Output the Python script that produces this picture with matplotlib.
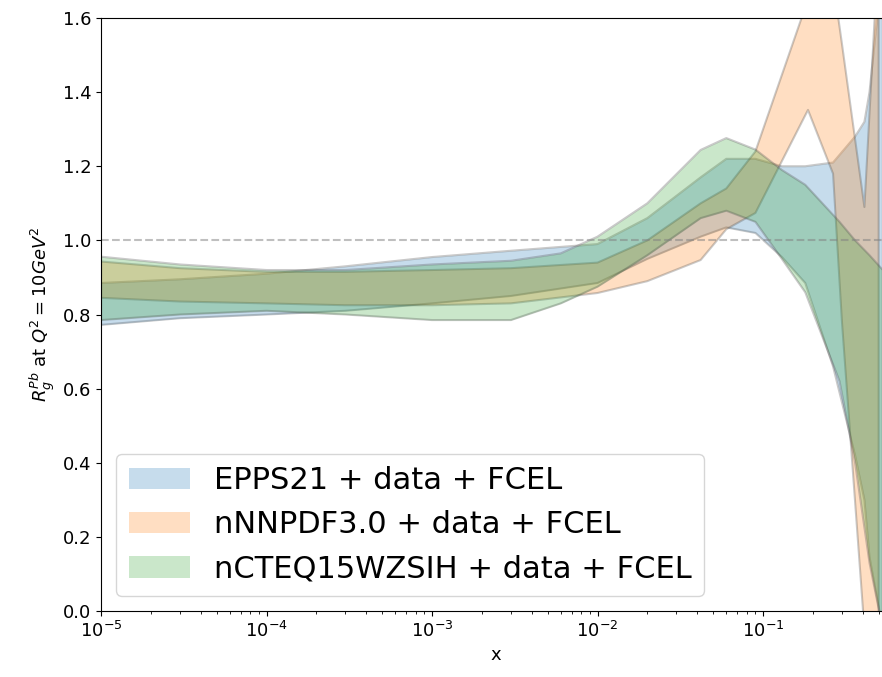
import numpy as np
import matplotlib
matplotlib.use("Agg")
import matplotlib.pyplot as plt

# EPPS21 band
x_epps = [1e-5, 3e-5, 1e-4, 3e-4, 1e-3, 3e-3, 1e-2, 2e-2, 4.2e-2, 6e-2, 9e-2,
          0.13, 0.18, 0.265, 0.36, 0.41, 0.44, 0.53]
hi_epps = [0.885, 0.895, 0.91, 0.93, 0.955, 0.972, 0.99, 1.06, 1.17, 1.22, 1.22,
           1.20, 1.20, 1.21, 1.28, 1.32, 1.40, 1.75]
lo_epps = [0.772, 0.79, 0.80, 0.81, 0.83, 0.85, 0.885, 0.95, 1.01, 1.035, 1.02,
           0.955, 0.885, 0.66, 0.42, 0.30, 0.146, -0.05]

# nNNPDF3.0 band
x_nnpdf = [1e-5, 3e-5, 1e-4, 3e-4, 1e-3, 3e-3, 1e-2, 2e-2, 4.2e-2, 6e-2, 9e-2,
           0.187, 0.265, 0.30, 0.41, 0.5]
hi_nnpdf = [0.943, 0.925, 0.915, 0.915, 0.92, 0.925, 0.94, 1.0, 1.10, 1.14, 1.24,
            1.65, 1.70, 1.53, 1.09, 1.80]
lo_nnpdf = [0.845, 0.835, 0.83, 0.825, 0.825, 0.83, 0.858, 0.89, 0.947, 1.03, 1.074,
            1.352, 1.18, 0.78, -0.05, -0.1]

# nCTEQ15WZSIH band
x_ncteq = [1e-5, 3e-5, 1e-4, 3e-4, 1e-3, 3e-3, 6e-3, 1e-2, 2e-2, 4.2e-2, 6e-2, 9e-2,
           0.13, 0.18, 0.29, 0.36, 0.44, 0.53]
hi_ncteq = [0.956, 0.935, 0.92, 0.92, 0.935, 0.945, 0.965, 1.01, 1.10, 1.244, 1.276, 1.245,
            1.19, 1.15, 1.05, 1.0, 0.96, 0.92]
lo_ncteq = [0.785, 0.80, 0.81, 0.80, 0.785, 0.785, 0.83, 0.875, 0.96, 1.06, 1.08, 1.05,
            0.95, 0.86, 0.62, 0.40, 0.13, -0.05]

labels = ["EPPS21 + data + FCEL", "nNNPDF3.0 + data + FCEL", "nCTEQ15WZSIH + data + FCEL"]

fig = plt.figure(figsize=(8.82, 6.77), dpi=100)
ax = fig.add_axes([101/882, 1 - 611/677, 789/882, 593/677])

for xs, lo, hi, lab, c in [(x_epps, lo_epps, hi_epps, labels[0], "C0"),
                           (x_nnpdf, lo_nnpdf, hi_nnpdf, labels[1], "C1"),
                           (x_ncteq, lo_ncteq, hi_ncteq, labels[2], "C2")]:
    ax.fill_between(xs, lo, hi, color=c, alpha=0.25, label=lab, lw=0)
    # band outline
    ax.fill_between(xs, lo, hi, facecolor="none", edgecolor=(0.3, 0.3, 0.3, 0.3), lw=1.5)
ax.axhline(1.0, ls="--", color="gray", alpha=0.5)

ax.set_xscale("log")
ax.set_xlim(1e-5, 10 ** (789/165.5 - 5))
ax.set_ylim(0, 1.6)
ax.tick_params(labelsize=13)
ax.set_xlabel("x", fontsize=13)
ax.set_ylabel(r"$R_g^{Pb}$ at $Q^2 = 10 GeV^2$", fontsize=13)
ax.legend(loc="lower left", fontsize=22)

fig.savefig("out.png", dpi=100)
